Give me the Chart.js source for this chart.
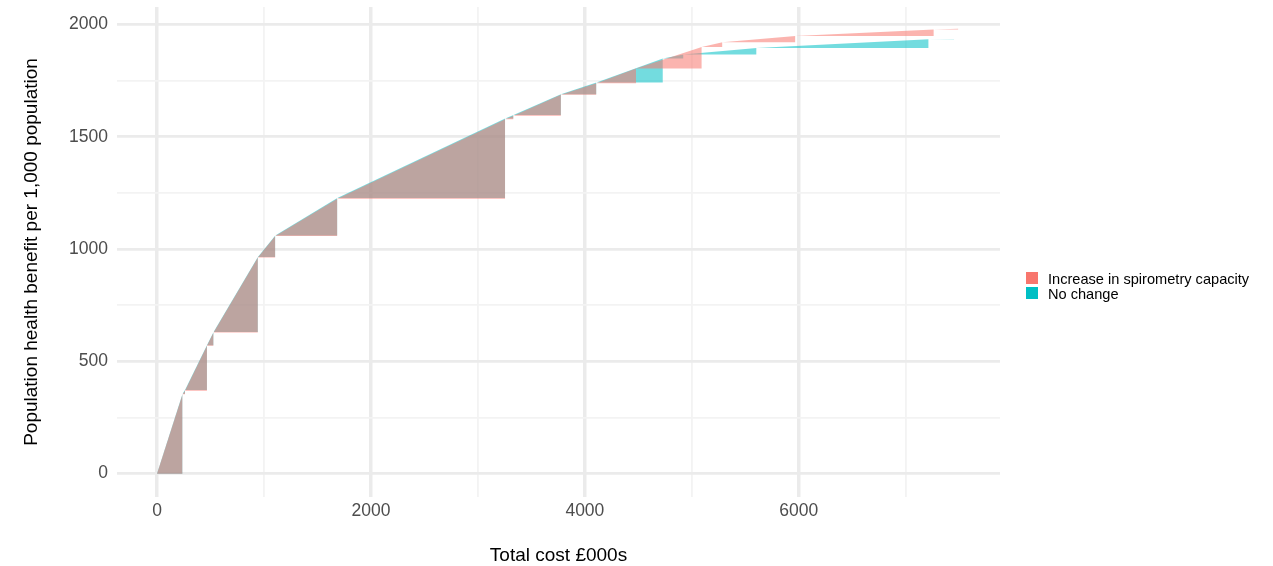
<!DOCTYPE html>
<html>
<head>
<meta charset="utf-8">
<title>Population health benefit vs total cost</title>
<script src="https://cdn.jsdelivr.net/npm/chart.js@4.4.0/dist/chart.umd.min.js"></script>
<style>
  body { margin: 0; background: #fff; }
  #wrap { position: relative; width: 1273px; height: 566px; }
  #legend { font-family: 'Liberation Sans', Arial, sans-serif; font-size: 14.6px; color: #000; }
  .item { position: absolute; left: 1026px; height: 14px; }
  .swatch { position: absolute; left: 0; top: 0; width: 12px; height: 12px; }
  .lbl { position: absolute; left: 22px; top: 0; line-height: 14px; white-space: nowrap; }
</style>
</head>
<body>
<div id="wrap">
  <canvas id="chart" width="1273" height="566"></canvas>
  <div id="legend"></div>
</div>
<script>
// frontier points: total cost (£000s) and population health benefit per 1,000
const increaseCost    = [0, 239, 262, 467, 529, 943, 1106, 1686, 3255, 3333, 3776, 4108, 4479, 5093, 5286, 5968, 7262, 7492];
const increaseBenefit = [0, 353, 369, 569, 628, 962, 1058, 1224, 1578, 1594, 1687, 1739, 1804, 1900, 1921, 1949, 1978, 1981];

const noChangeCost    = [0, 239, 262, 467, 529, 943, 1106, 1686, 3255, 3333, 3776, 4108, 4729, 4922, 5605, 7214, 7452];
const noChangeBenefit = [0, 356, 372, 572, 631, 965, 1061, 1227, 1582, 1597, 1690, 1742, 1849, 1866, 1895, 1934, 1936];

const seriesNames = ['Increase in spirometry capacity', 'No change'];
const seriesColours = ['#F8766D', '#00BFC4'];
const fillColours = ['rgba(248,118,109,0.55)', 'rgba(0,191,196,0.55)'];

const xGrid = [0, 1000, 2000, 3000, 4000, 5000, 6000, 7000];
const xTickLabels = [0, 2000, 4000, 6000];
const yGrid = [0, 250, 500, 750, 1000, 1250, 1500, 1750, 2000];
const yTickLabels = [0, 500, 1000, 1500, 2000];

const FONT = "'Liberation Sans', Arial, sans-serif";

// one filled piece per step: from previous point to this one, down to previous benefit
function stepPieces(costs, benefits, colour, label) {
    const sets = [];
    for (let i = 1; i < costs.length; i++) {
        sets.push({
            label: label,
            data: [{x: costs[i - 1], y: benefits[i - 1]}, {x: costs[i], y: benefits[i]}],
            fill: {value: benefits[i - 1]},
            backgroundColor: colour,
            borderColor: 'rgba(0,0,0,0)',
            borderWidth: 0,
            pointRadius: 0,
            tension: 0
        });
    }
    return sets;
}

// pink on top (drawn last), like the overlap colour in the picture
const datasets = [
    ...stepPieces(increaseCost, increaseBenefit, fillColours[0], seriesNames[0]),
    ...stepPieces(noChangeCost, noChangeBenefit, fillColours[1], seriesNames[1])
];

// fixed panel: scales keep the sizes given, no extra padding for labels
const fixSize = (s, w, h) => {
    if (w) s.width = w;
    if (h) s.height = h;
    s.paddingTop = 0;
    s.paddingBottom = 0;
    s.paddingLeft = 0;
    s.paddingRight = 0;
};

const ctx = document.getElementById('chart').getContext('2d');
const chart = new Chart(ctx, {
    type: 'line',
    data: { datasets: datasets },
    options: {
        responsive: false,
        animation: false,
        layout: { padding: { left: 0, top: 7, right: 273, bottom: 0 } },
        plugins: {
            legend: { display: false },
            tooltip: { enabled: false }
        },
        scales: {
            x: {
                type: 'linear',
                min: -374,
                max: 7881,
                afterBuildTicks: s => { s.ticks = xGrid.map(v => ({value: v})); },
                afterFit: s => fixSize(s, 0, 69),
                ticks: {
                    autoSkip: false,
                    maxRotation: 0,
                    padding: 4,
                    color: '#4d4d4d',
                    font: { family: FONT, size: 17.5 },
                    callback: v => xTickLabels.includes(v) ? String(v) : ''
                },
                grid: {
                    drawTicks: false,
                    color: c => xTickLabels.includes(c.tick.value) ? '#ebebeb' : '#f3f3f3',
                    lineWidth: c => xTickLabels.includes(c.tick.value) ? 3.5 : 1.8
                },
                border: { display: false },
                title: {
                    display: true,
                    text: 'Total cost £000s',
                    color: '#000',
                    font: { family: FONT, size: 19, lineHeight: 1 },
                    padding: { top: 0, bottom: 0.5 }
                }
            },
            y: {
                type: 'linear',
                min: -104,
                max: 2078,
                afterBuildTicks: s => { s.ticks = yGrid.map(v => ({value: v})); },
                afterFit: s => fixSize(s, 117, 0),
                ticks: {
                    autoSkip: false,
                    padding: 9,
                    color: '#4d4d4d',
                    font: { family: FONT, size: 17.5 },
                    callback: v => yTickLabels.includes(v) ? String(v) : ''
                },
                grid: {
                    drawTicks: false,
                    color: c => yTickLabels.includes(c.tick.value) ? '#ebebeb' : '#f3f3f3',
                    lineWidth: c => yTickLabels.includes(c.tick.value) ? 2.7 : 1.8
                },
                border: { display: false },
                title: {
                    display: true,
                    text: 'Population health benefit per 1,000 population',
                    color: '#000',
                    font: { family: FONT, size: 19, lineHeight: 1 },
                    padding: { top: 22, bottom: 0 }
                }
            }
        }
    }
});

// legend on the right, as in the picture
const legend = document.getElementById('legend');
const legendTops = [272, 287];
seriesNames.forEach((name, i) => {
    const item = document.createElement('div');
    item.className = 'item';
    item.style.top = legendTops[i] + 'px';
    item.innerHTML = '<div class="swatch" style="background:' + seriesColours[i] + '"></div><div class="lbl">' + name + '</div>';
    legend.appendChild(item);
});
</script>
</body>
</html>
